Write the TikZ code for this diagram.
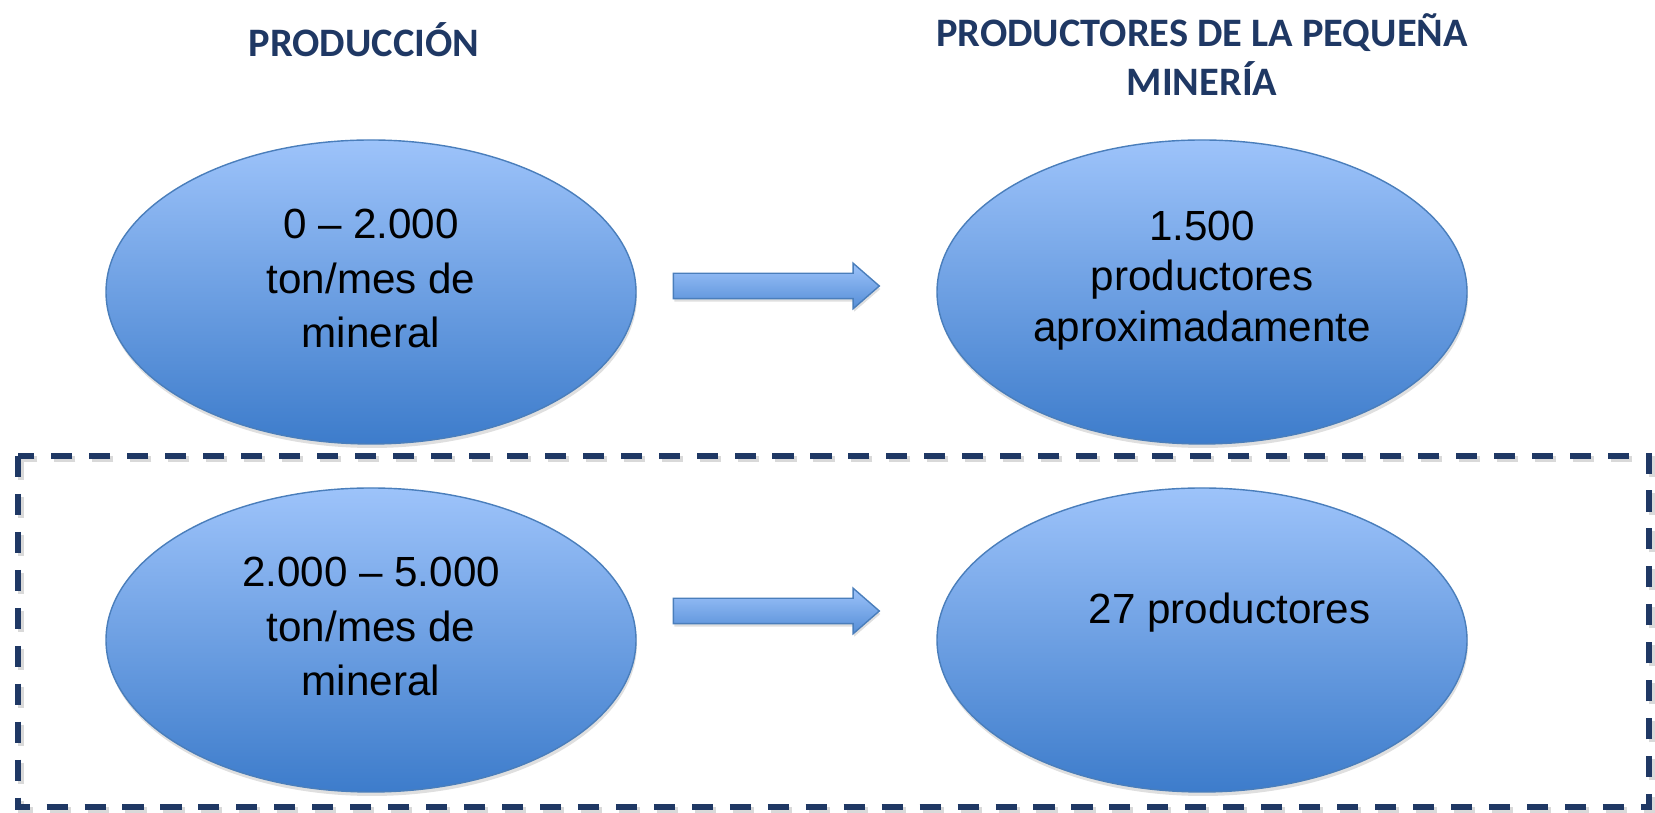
\documentclass[tikz,border=0pt]{standalone}
\usepackage{fontspec}
\setmainfont{Liberation Sans}
\newfontfamily\titlefont{Carlito}
\usetikzlibrary{shapes.geometric,shapes.arrows,shadows}
\definecolor{navy}{HTML}{1F3864}
\definecolor{lightblue}{HTML}{9DC3FA}
\definecolor{darkblue}{HTML}{3D7CCB}
\definecolor{edgeblue}{HTML}{4A7EBB}
\begin{document}
\begin{tikzpicture}[
    oval/.style={ellipse,draw=edgeblue,thick,top color=lightblue,bottom color=darkblue,
      minimum width=10.6cm,minimum height=6.08cm,inner sep=0pt,align=center,
      font=\fontsize{24}{31}\selectfont,
      drop shadow={opacity=0.25,shadow xshift=0.02cm,shadow yshift=-0.08cm}},
    blockarrow/.style={single arrow,draw=edgeblue,thick,top color=lightblue,bottom color=darkblue!75!lightblue,
      minimum height=4.12cm,inner xsep=0pt,inner ysep=0.24cm,single arrow head extend=0.2cm,
      single arrow tip angle=82,
      drop shadow={opacity=0.25,shadow xshift=0.02cm,shadow yshift=-0.06cm}},
    heading/.style={navy,align=center,font=\titlefont\bfseries\fontsize{23}{28}\selectfont}]
  \useasboundingbox (0,0) rectangle (33.1,16.26);

  % titles
  \node[heading] (tprod) at (7.28,15.46) {PRODUCCIÓN};
  \node[heading] (tmin) at (24.04,15.17) {PRODUCTORES DE LA PEQUEÑA\\MINERÍA};

  % first row
  \node[oval] (prod1) at (7.42,10.42) {0 – 2.000\\ton/mes de\\mineral\\[-0.55cm]};
  \node[oval] (num1) at (24.04,10.42) {1.500\\[-0.08cm]productores\\[-0.08cm]aproximadamente\\[-0.45cm]};
  \node[blockarrow] (arr1) at (15.38,10.54) {};

  % second row
  \node[oval] (prod2) at (7.42,3.46) {2.000 – 5.000\\ton/mes de\\mineral\\[-0.55cm]};
  \node[oval] (num2) at (24.04,3.46) {\hspace*{1.1cm}27 productores\\[0.2cm]};
  \node[blockarrow] (arr2) at (15.38,4.04) {};

  % dashed frame
  \draw[black,opacity=0.15,line width=3.2pt,dash pattern=on 12pt off 9.6pt]
    (0.42,7.08) rectangle (33.04,0.06);
  \draw[navy,line width=3.2pt,dash pattern=on 12pt off 9.6pt]
    (0.36,7.14) rectangle (32.98,0.12);
\end{tikzpicture}
\end{document}
